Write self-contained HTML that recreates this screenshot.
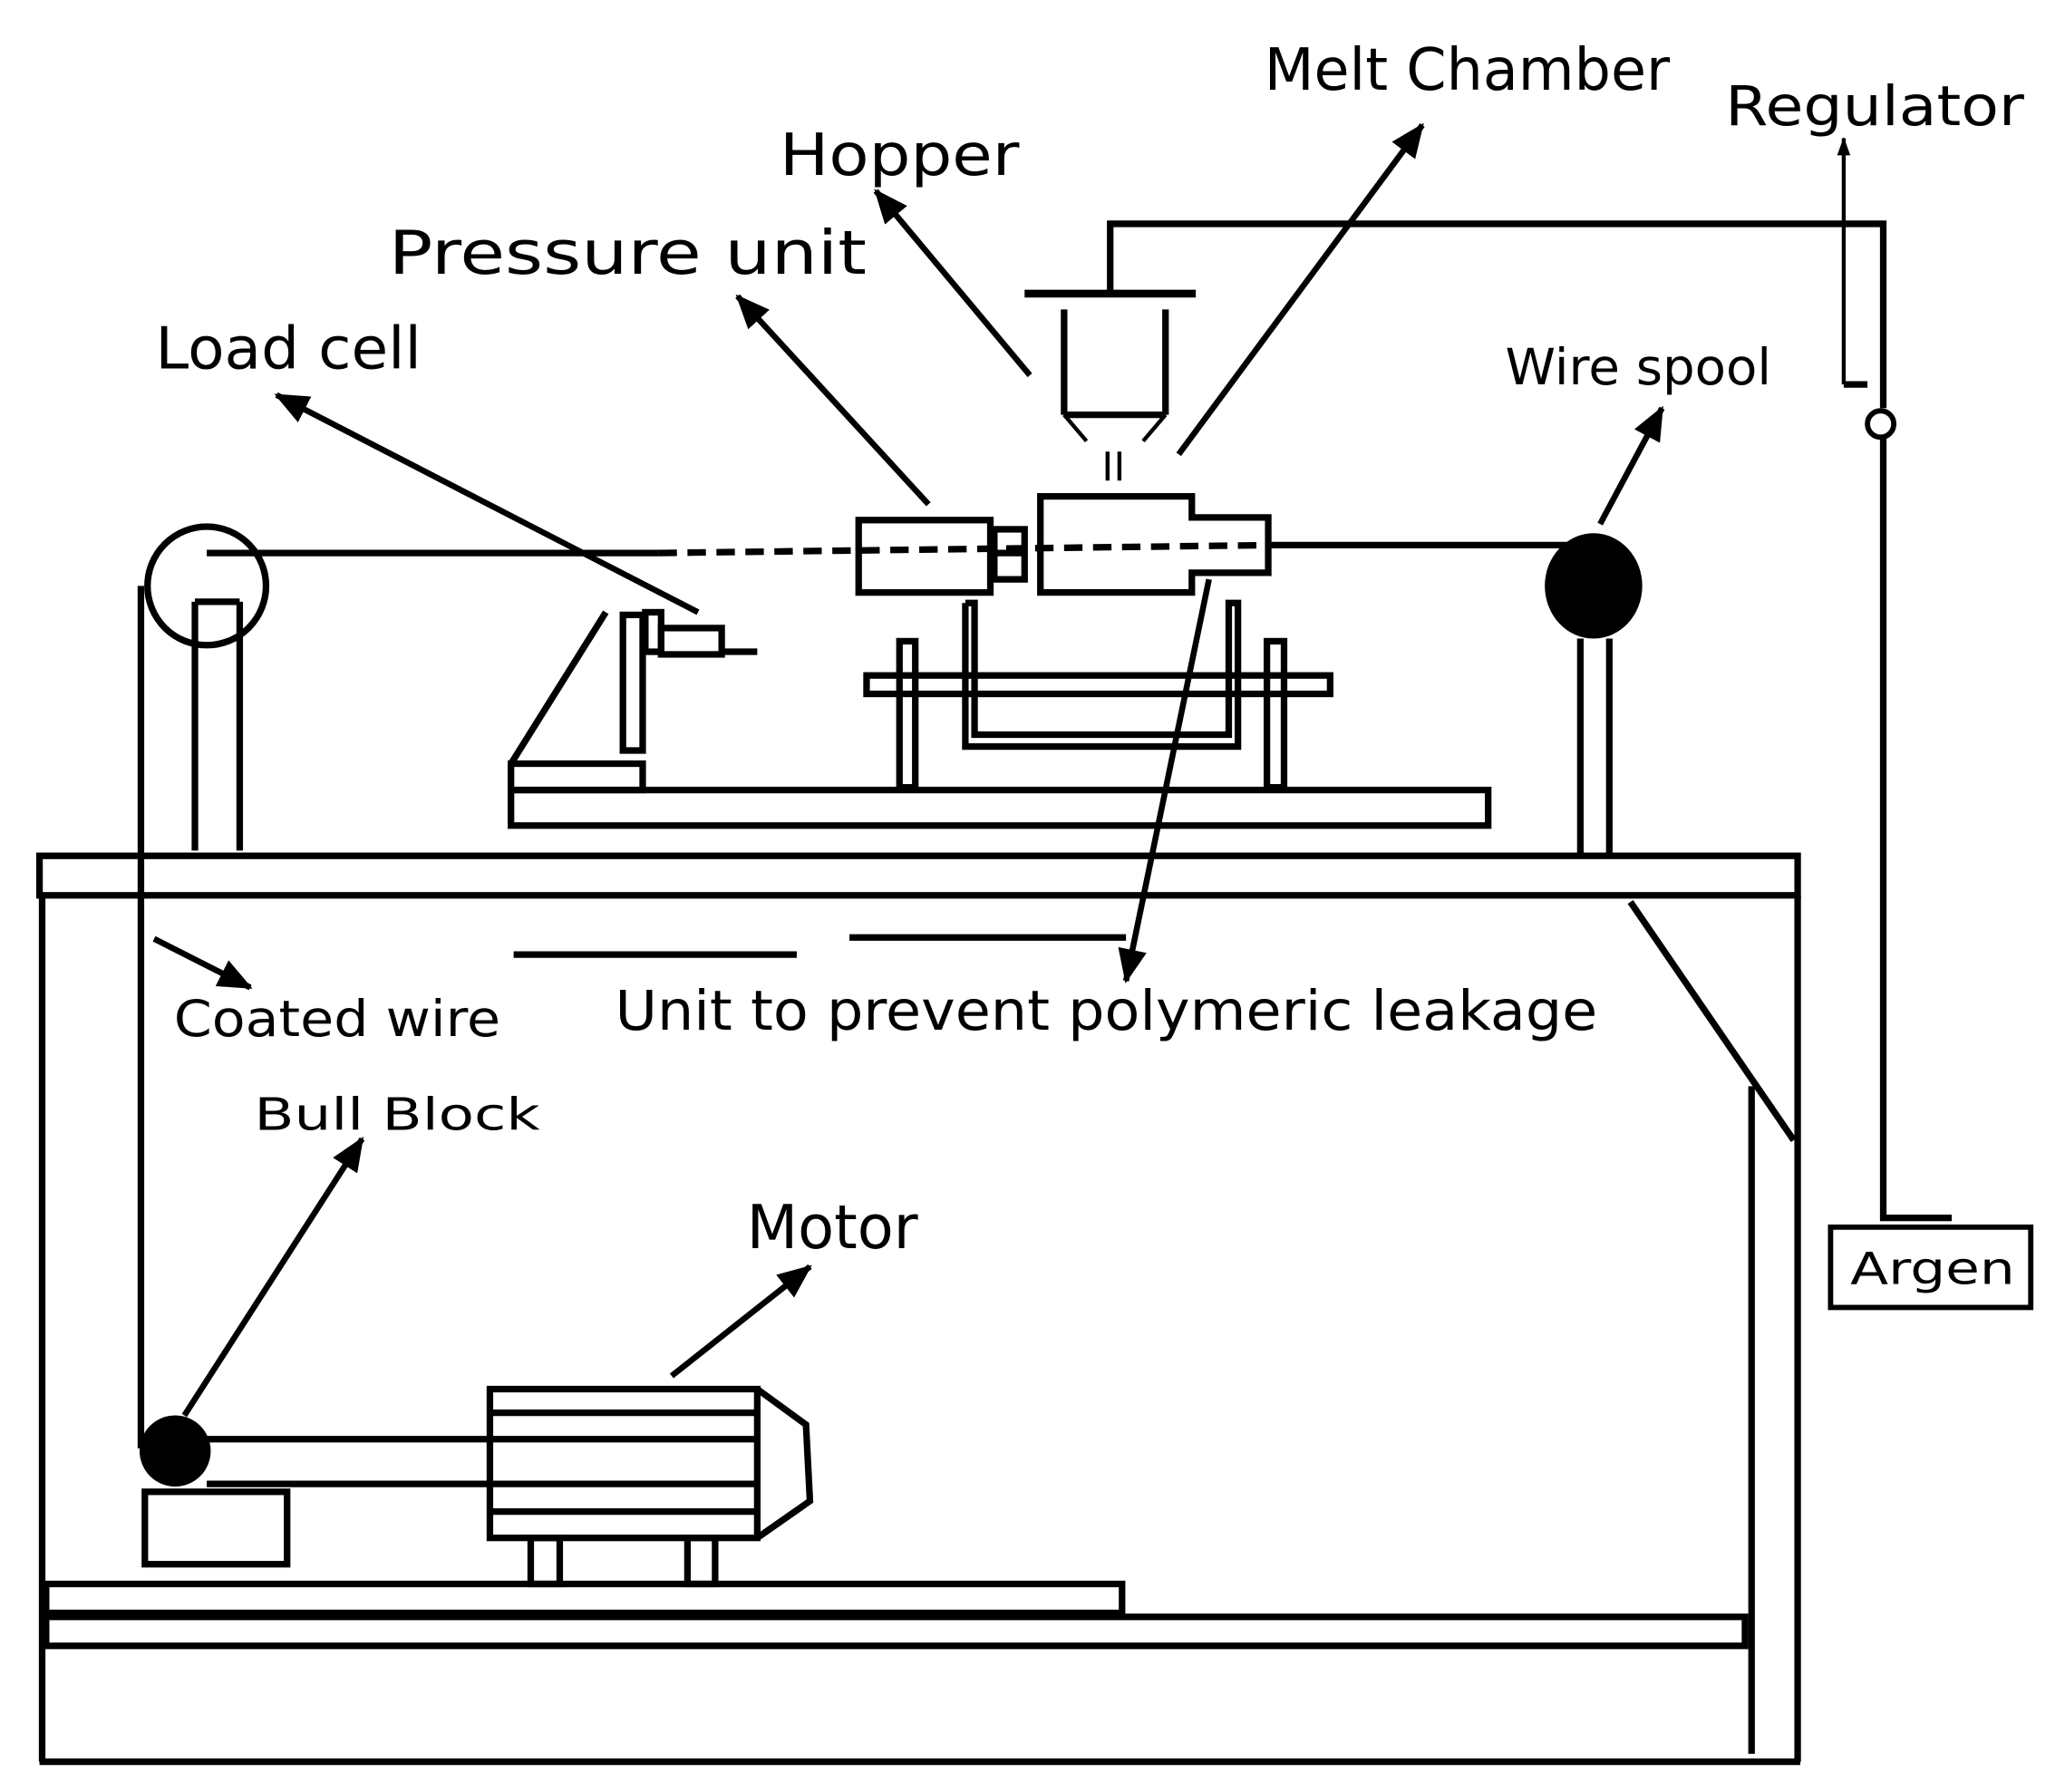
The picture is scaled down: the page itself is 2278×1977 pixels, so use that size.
<!DOCTYPE html>
<html><head><meta charset="utf-8"><style>
html,body{margin:0;padding:0;background:#fff;}
svg{display:block;}
text{font-family:"DejaVu Sans","Liberation Sans",sans-serif;fill:#000;}
</style></head><body>
<svg width="2278" height="1977" viewBox="0 0 1568 1361" preserveAspectRatio="none" xmlns="http://www.w3.org/2000/svg">
<defs>
<marker id="ab" markerWidth="26" markerHeight="22" refX="24" refY="11" orient="auto" markerUnits="userSpaceOnUse" viewBox="0 0 26 22">
<path d="M0,0 L26,11 L0,22 z" fill="#000"/></marker>
<marker id="as" markerWidth="14" markerHeight="10" refX="13" refY="5" orient="auto" markerUnits="userSpaceOnUse" viewBox="0 0 14 10">
<path d="M0,0 L14,5 L0,10 z" fill="#000"/></marker>
</defs>
<g fill="none" stroke="#000" stroke-width="5">
<rect x="30" y="650" width="1335" height="30"/>
<line x1="32" y1="680" x2="32" y2="1338"/>
<line x1="30" y1="1338" x2="1367" y2="1338"/>
<line x1="1365" y1="680" x2="1365" y2="1338"/>
<line x1="1330" y1="825" x2="1330" y2="1332"/>
<line x1="1238" y1="685" x2="1362" y2="866"/>
<rect x="35" y="1228" width="1290" height="22"/>
<rect x="35" y="1203" width="817" height="22"/>
<circle cx="157" cy="445" r="45"/>
<line x1="148" y1="457" x2="148" y2="646"/>
<line x1="182" y1="457" x2="182" y2="646"/>
<line x1="148" y1="457" x2="182" y2="457"/>
<line x1="107" y1="445" x2="107" y2="1100"/>
<line x1="157" y1="420" x2="500" y2="420"/>
<line x1="500" y1="420" x2="965" y2="414" stroke-dasharray="14,8"/>
<line x1="965" y1="414" x2="1190" y2="414"/>
<line x1="1200" y1="485" x2="1200" y2="648"/>
<line x1="1222" y1="485" x2="1222" y2="648"/>
<path d="M790,377 H905 V393 H963 V435 H905 V450 H790 Z"/>
<rect x="652" y="395" width="100" height="55"/>
<rect x="755" y="402" width="23" height="38"/>
<line x1="755" y1="420" x2="778" y2="420"/>
<line x1="778" y1="223" x2="908" y2="223" stroke-width="6"/>
<polyline points="843,223 843,170 1430,170 1430,310"/>
<circle cx="1428" cy="322" r="10" stroke-width="4"/>
<polyline points="1430,332 1430,925 1482,925"/>
<line x1="1400" y1="292" x2="1418" y2="292"/>
<line x1="808" y1="235" x2="808" y2="315"/>
<line x1="885" y1="235" x2="885" y2="315"/>
<line x1="808" y1="315" x2="885" y2="315"/>
<line x1="808" y1="315" x2="825" y2="335" stroke-width="3"/>
<line x1="885" y1="315" x2="868" y2="335" stroke-width="3"/>
<line x1="841" y1="343" x2="841" y2="365" stroke-width="3"/>
<line x1="850" y1="343" x2="850" y2="365" stroke-width="3"/>
<rect x="658" y="513" width="352" height="14"/>
<rect x="683" y="487" width="12" height="111"/>
<rect x="962" y="487" width="13" height="111"/>
<polyline points="733,458 733,567 940,567 940,458 933,458 933,558 740,558 740,458 733,458"/>
<rect x="388" y="600" width="742" height="27"/>
<line x1="460" y1="465" x2="388" y2="580"/>
<rect x="388" y="580" width="100" height="20"/>
<rect x="473" y="467" width="15" height="103"/>
<rect x="490" y="465" width="12" height="30"/>
<rect x="502" y="477" width="46" height="20"/>
<line x1="548" y1="495" x2="575" y2="495"/>
<line x1="390" y1="725" x2="605" y2="725"/>
<line x1="645" y1="712" x2="855" y2="712"/>
<rect x="110" y="1133" width="108" height="55"/>
<line x1="157" y1="1093" x2="372" y2="1093"/>
<line x1="157" y1="1127" x2="372" y2="1127"/>
<rect x="372" y="1055" width="203" height="113"/>
<line x1="372" y1="1073" x2="575" y2="1073"/>
<line x1="372" y1="1093" x2="575" y2="1093"/>
<line x1="372" y1="1127" x2="575" y2="1127"/>
<line x1="372" y1="1148" x2="575" y2="1148"/>
<polyline points="575,1055 612,1082 615,1140 575,1168"/>
<rect x="403" y="1168" width="22" height="35"/>
<rect x="522" y="1168" width="21" height="35"/>
<rect x="1390" y="932" width="152" height="61" stroke-width="4"/>
<g marker-end="url(#ab)" stroke-width="4.5">
<line x1="530" y1="465" x2="210" y2="300"/>
<line x1="705" y1="383" x2="560" y2="225"/>
<line x1="782" y1="285" x2="665" y2="145"/>
<line x1="895" y1="345" x2="1080" y2="95"/>
<line x1="1215" y1="398" x2="1262" y2="310"/>
<line x1="918" y1="440" x2="855" y2="745"/>
<line x1="117" y1="713" x2="190" y2="750"/>
<line x1="140" y1="1075" x2="275" y2="865"/>
<line x1="510" y1="1045" x2="615" y2="962"/>
</g>
<line x1="1400" y1="292" x2="1400" y2="105" stroke-width="3" marker-end="url(#as)"/>
</g>
<ellipse cx="1210" cy="445" rx="37" ry="40" fill="#000"/>
<circle cx="133" cy="1102" r="27" fill="#000"/>
<text x="960" y="68" font-size="44" textLength="308" lengthAdjust="spacingAndGlyphs">Melt Chamber</text>
<text x="1310" y="95" font-size="42" textLength="227" lengthAdjust="spacingAndGlyphs">Regulator</text>
<text x="592" y="133" font-size="44" textLength="182" lengthAdjust="spacingAndGlyphs">Hopper</text>
<text x="295" y="208" font-size="46" textLength="363" lengthAdjust="spacingAndGlyphs">Pressure unit</text>
<text x="118" y="280" font-size="44" textLength="202" lengthAdjust="spacingAndGlyphs">Load cell</text>
<text x="1143" y="292" font-size="38" textLength="202" lengthAdjust="spacingAndGlyphs">Wire spool</text>
<text x="132" y="787" font-size="38" textLength="248" lengthAdjust="spacingAndGlyphs">Coated wire</text>
<text x="467" y="782" font-size="42" textLength="746" lengthAdjust="spacingAndGlyphs">Unit to prevent polymeric leakage</text>
<text x="193" y="858" font-size="34" textLength="217" lengthAdjust="spacingAndGlyphs">Bull Block</text>
<text x="567" y="948" font-size="46" textLength="130" lengthAdjust="spacingAndGlyphs">Motor</text>
<text x="1405" y="975" font-size="34" textLength="125" lengthAdjust="spacingAndGlyphs">Argen</text>
</svg>
</body></html>
